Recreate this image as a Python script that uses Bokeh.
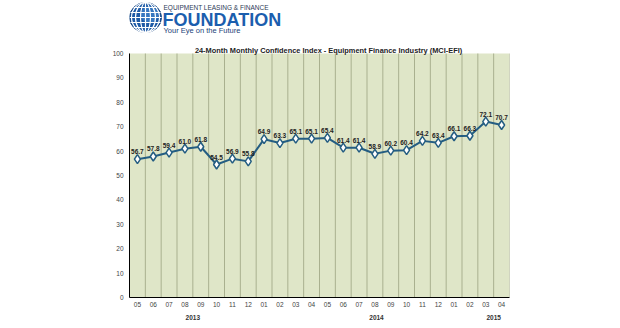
from bokeh.plotting import figure
from bokeh.models import (Range1d, FixedTicker, LinearAxis, ColumnDataSource,
                          LabelSet, Label, BoxAnnotation)
from bokeh.layouts import column
from bokeh.core.properties import value
from bokeh.embed import file_html
from bokeh.resources import INLINE

# ---- data ----
months = ["05", "06", "07", "08", "09", "10", "11", "12",
          "01", "02", "03", "04", "05", "06", "07", "08", "09", "10", "11", "12",
          "01", "02", "03", "04"]
mci = [56.7, 57.8, 59.4, 61.0, 61.8, 54.5, 56.9, 55.8,
       64.9, 63.3, 65.1, 65.1, 65.4, 61.4, 61.4, 58.9, 60.2, 60.4, 64.2, 63.4,
       66.1, 66.3, 72.1, 70.7]
years = ["2013", "2014", "2015"]
year_pos = [4.0, 15.6, 23.0]   # where the year labels sit on the category scale
y_ticks = list(range(0, 101, 10))
title_text = "24-Month Monthly Confidence Index - Equipment Finance Industry (MCI-EFI)"

LINE = "#245d82"
BG = "#dfe6c8"
GRID = "#a9b08f"
FONT = "Liberation Sans"
L, R = 129, 111   # frame borders shared by both figures

# ---- logo strip (data coords = pixel coords) ----
logo = figure(width=620, height=44, x_range=Range1d(L, 620 - R), y_range=Range1d(44, 0),
              x_axis_type=None, y_axis_type=None, toolbar_location=None,
              output_backend="svg", min_border_left=L, min_border_right=R,
              min_border_top=0, min_border_bottom=0, outline_line_color=None)
logo.grid.visible = False
gx, gy, gw, gh = 145, 17, 32, 30
logo.ellipse(x=[gx], y=[gy], width=gw, height=gh, fill_color="#1d5aa6",
             line_color="#17457f", line_width=1)
logo.ellipse(x=[gx + 4], y=[gy - 3], width=18, height=16, fill_color="#4a8fd6",
             line_color=None, fill_alpha=0.55)
for w in [10, 20, 28]:
    logo.ellipse(x=[gx], y=[gy], width=w, height=gh, fill_color=None,
                 line_color="white", line_width=1.2)
logo.segment(x0=[gx], y0=[gy - gh / 2], x1=[gx], y1=[gy + gh / 2], line_color="white", line_width=1.2)
for d in [-10, -5, 0, 5, 10]:
    hw = (gw / 2) * (1 - (d / (gh / 2)) ** 2) ** 0.5
    logo.segment(x0=[gx - hw], y0=[gy + d], x1=[gx + hw], y1=[gy + d],
                 line_color="white", line_width=1.2)
logo.text(x=[163], y=[7], text=["EQUIPMENT LEASING & FINANCE"], text_font=value(FONT),
          text_font_size="6.5px", text_color="#2d3b56", text_baseline="middle")
logo.text(x=[162], y=[19.5], text=["FOUNDATION"], text_font=value(FONT), text_font_style="bold",
          text_font_size="18px", text_color="#1b5eae", text_baseline="middle")
logo.text(x=[163], y=[30], text=["Your Eye on the Future"], text_font=value(FONT),
          text_font_size="7.5px", text_color="#1c3f78", text_baseline="middle")

# ---- chart ----
n = len(months)
xs = [i + 0.5 for i in range(n)]
p = figure(width=620, height=284, x_range=Range1d(0, n), y_range=Range1d(0, 103.7),
           toolbar_location=None, output_backend="svg",
           min_border_left=L, min_border_right=R, min_border_top=0, min_border_bottom=31,
           background_fill_color="white", outline_line_color=None)
p.grid.visible = False
p.add_layout(BoxAnnotation(left=0, right=n, bottom=0, top=100, fill_color=BG, fill_alpha=1,
                           line_color=None, level="underlay"))
bounds = list(range(n + 1))
p.segment(x0=bounds, y0=[0] * len(bounds), x1=bounds, y1=[100] * len(bounds),
          line_color=GRID, line_width=1)

src = ColumnDataSource(dict(x=xs, y=mci, label=[f"{v:.1f}" for v in mci]))
p.line("x", "y", source=src, line_color=LINE, line_width=2)
p.scatter("x", "y", source=src, marker="diamond", size=9, fill_color="white",
          line_color=LINE, line_width=1.5)
p.add_layout(LabelSet(x="x", y="y", text="label", source=src, y_offset=5,
                      text_align="center", text_baseline="bottom",
                      text_font=value(FONT), text_font_size="6.5px", text_font_style="bold",
                      text_color="#222222"))

# axes
ya = p.yaxis[0]
ya.ticker = FixedTicker(ticks=y_ticks)
ya.bounds = (0, 100)
ya.major_tick_out = 0
ya.major_tick_in = 0
ya.minor_tick_out = 0
ya.minor_tick_in = 0
ya.major_label_standoff = 6
ya.axis_line_color = "black"
ya.major_label_text_font = FONT
ya.major_label_text_font_size = "6.5px"
ya.major_label_text_color = "#444444"

xa = p.xaxis[0]
xa.ticker = FixedTicker(ticks=xs)
xa.major_label_overrides = {x: m for x, m in zip(xs, months)}
xa.major_tick_out = 0
xa.major_tick_in = 0
xa.minor_tick_out = 0
xa.minor_tick_in = 0
xa.major_label_standoff = 4
xa.axis_line_color = "black"
xa.major_label_text_font = FONT
xa.major_label_text_font_size = "6.5px"
xa.major_label_text_color = "#444444"

ya2 = LinearAxis(ticker=FixedTicker(ticks=year_pos),
                 major_label_overrides={x: y for x, y in zip(year_pos, years)},
                 axis_line_color=None, major_tick_out=0, major_tick_in=0,
                 minor_tick_out=0, minor_tick_in=0, major_label_standoff=5,
                 major_label_text_font=FONT, major_label_text_font_size="6.5px",
                 major_label_text_font_style="bold", major_label_text_color="#333333")
p.add_layout(ya2, "below")

p.add_layout(Label(x=12.57, y=101.4, text=title_text, text_align="center",
                   text_baseline="middle", text_font=FONT, text_font_size="7.4px",
                   text_font_style="bold", text_color="#222222"))

layout = column(logo, p, spacing=0)
open("out.html", "w").write(file_html(layout, INLINE))
